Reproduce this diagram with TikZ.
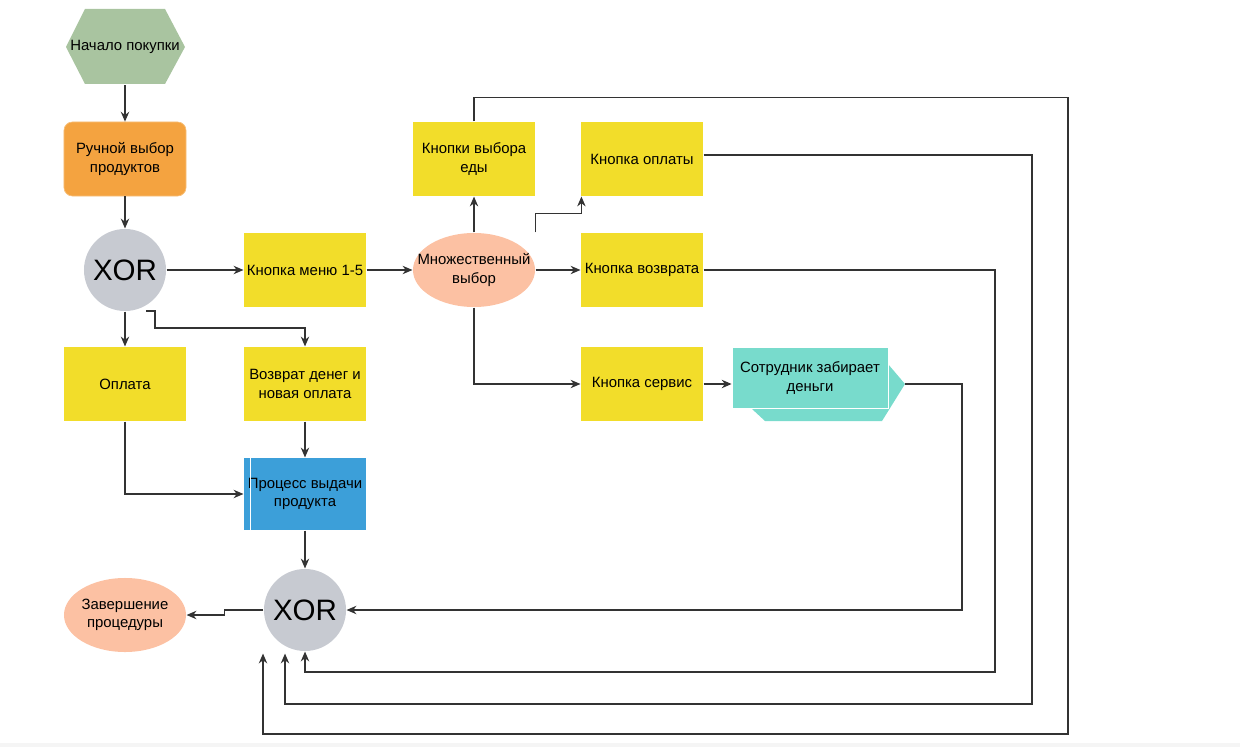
\documentclass[tikz,border=0pt]{standalone}
\usepackage{fontspec}
\setmainfont{Liberation Sans}
\usetikzlibrary{shapes.geometric, arrows.meta, positioning, calc}
\definecolor{hexgreen}{HTML}{A9C4A0}
\definecolor{boxorange}{HTML}{F4A340}
\definecolor{boxyellow}{HTML}{F2DD2A}
\definecolor{xorgrey}{HTML}{C7CAD1}
\definecolor{ovalpink}{HTML}{FCC1A3}
\definecolor{procblue}{HTML}{3C9FD9}
\definecolor{empteal}{HTML}{78DBCC}
\definecolor{linegrey}{HTML}{333333}

\begin{document}
\begin{tikzpicture}[x=0.025cm, y=-0.025cm, font=\fontsize{10.6}{13}\selectfont,
    >={Stealth[length=7pt,width=6pt]}, line width=0.8pt,
    box/.style={rectangle, fill=boxyellow, minimum width=3.05cm, minimum height=1.85cm, align=center, inner sep=1pt},
    rbox/.style={box, rounded corners=6pt, fill=boxorange, draw=boxorange!70!white, line width=0.5pt},
    procbox/.style={box, fill=procblue, minimum height=1.8cm},
    oval/.style={ellipse, fill=ovalpink, minimum width=3.05cm, minimum height=1.85cm, align=center, inner xsep=-12pt, inner ysep=0pt},
    xorc/.style={circle, fill=xorgrey, minimum size=2.05cm, inner sep=0pt, font=\fontsize{21}{24}\selectfont},
    link/.style={->, draw=linegrey}]

    \useasboundingbox (0,0) rectangle (1240,747);
    \fill[gray!8] (0,743) rectangle (1240,747);

    % start hexagon
    \fill[hexgreen] (66,47) -- (85,9) -- (165,9) -- (185,47) -- (165,84) -- (85,84) -- cycle;
    \node[minimum width=3cm, minimum height=1.875cm, inner sep=0pt] (start) at (125,47) {Начало покупки};

    \node[rbox] (manual) at (125,159) {Ручной выбор\\продуктов};
    \node[xorc] (xa) at (125,270) {XOR};
    \node[box] (menu) at (305,270) {Кнопка меню 1-5};
    \node[oval] (multi) at (474,270) {Множественный\\выбор};
    \node[box] (food) at (474,159) {Кнопки выбора\\еды};
    \node[box] (payb) at (642,159) {Кнопка оплаты};
    \node[box] (refund) at (642,270) {Кнопка возврата};
    \node[box] (service) at (642,384) {Кнопка сервис};
    \node[box] (pay) at (125,384) {Оплата};
    \node[box] (repay) at (305,384) {Возврат денег и\\новая оплата};
    \node[procbox] (issue) at (305,494) {Процесс выдачи\\продукта};
    \draw[white, line width=0.8pt] ($(issue.north west)+(7,0)$) -- ($(issue.south west)+(7,0)$);
    \node[xorc] (xb) at (305,610) {XOR};
    \node[oval] (finish) at (125,615) {Завершение\\процедуры};

    % employee step shape
    \fill[empteal] (752,357) -- (882,357) -- (905,384) -- (882,421) -- (765,421) -- (752,409) -- cycle;
    \node[rectangle, fill=empteal, draw=white, line width=0.6pt, minimum width=3.9cm, minimum height=1.525cm, align=center, inner sep=1pt] (staff) at (810,378) {Сотрудник забирает\\деньги};
    \coordinate (stafftip) at (905,384);
    \coordinate (xaside) at (146,311);

    % connectors
    \draw[link] (start.south) -- (manual.north);
    \draw[link] (manual.south) -- (xa.north);
    \draw[link] (xa.east) -- (menu.west);
    \draw[link] (xa.south) -- (pay.north);
    \draw[link] (xaside) -| ++(9,17) -| (repay.north);
    \draw[link] (menu.east) -- (multi.west);
    \draw[link] (multi.north) -- (food.south);
    \draw[link] (multi.east |- multi.north) -- ++(0,-19) -| ($(payb.south west)+(1,0)$);
    \draw[link] (multi.east) -- (refund.west);
    \draw[link] (multi.south) |- (service.west);
    \draw[link] (service.east) -- (service.east -| staff.west);
    \draw[link] (pay.south) |- (issue.west);
    \draw[link] (repay.south) -- (issue.north);
    \draw[link] (issue.south) -- (xb.north);
    \draw[link] (xb.west) -- ++(-39,0) |- (finish.east);

    % returns to the lower XOR
    \draw[link] (stafftip) -- ++(57,0) |- (xb.east);
    \draw[link] (refund.east) -| (995,672) -| (xb.south);
    \draw[link] ($(payb.east)+(0,-4)$) -| (1032,704) -| ($(xb.south)+(-20,2)$);
    \draw[link] (food.north) -- ++(0,-24) -| (1068,734) -| ($(xb.south)+(-42,2)$);
\end{tikzpicture}
\end{document}
